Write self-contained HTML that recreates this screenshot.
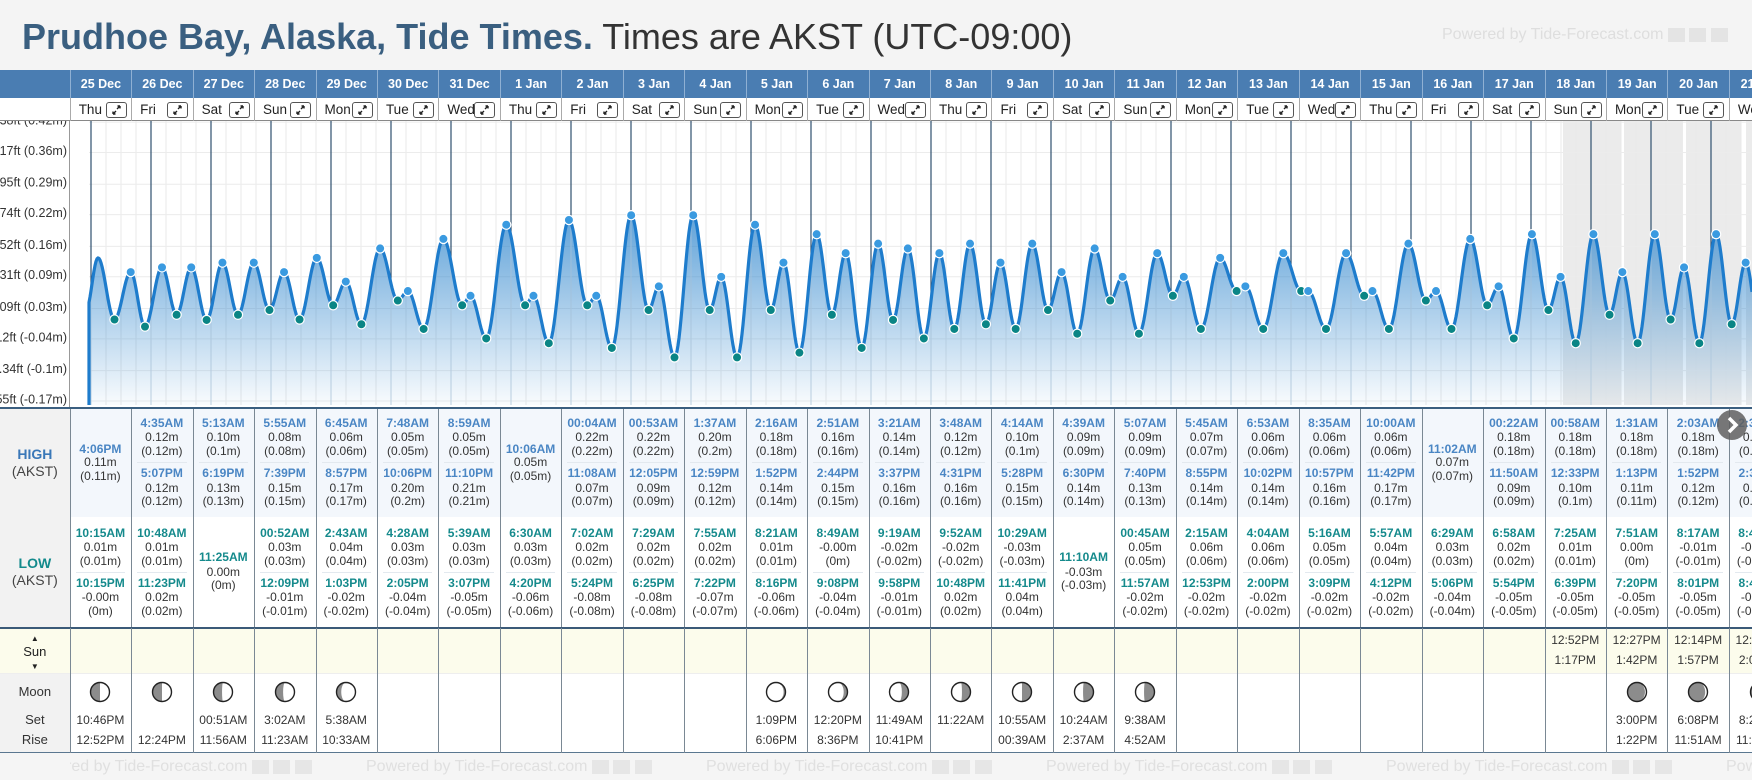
<!DOCTYPE html>
<html><head><meta charset="utf-8"><style>
body{margin:0;width:1752px;height:780px;overflow:hidden;background:#f4f4f4;font-family:"Liberation Sans",sans-serif;position:relative}
.a{position:absolute;box-sizing:border-box}
#tbl{position:absolute;left:0;top:0;width:1752px;height:780px;overflow:hidden;pointer-events:none}
#tbl *{pointer-events:auto}
</style></head><body>
<div class="a" style="left:22px;top:14px;line-height:46px;font-size:36px;white-space:nowrap;color:#333"><b style="color:#3a5f80">Prudhoe Bay, Alaska, Tide Times.</b> Times are AKST (UTC-09:00)</div>
<div class="a" style="left:1442px;top:26px;font-size:16px;color:#dedede;white-space:nowrap">Powered by Tide-Forecast.com <span style="display:inline-block;width:17px;height:14px;background:#e4e4e4;vertical-align:middle"></span> <span style="display:inline-block;width:17px;height:14px;background:#e4e4e4;vertical-align:middle"></span> <span style="display:inline-block;width:17px;height:14px;background:#e4e4e4;vertical-align:middle"></span></div>
<svg id="chart" class="a" style="left:0;top:0" width="1752" height="410" viewBox="0 0 1752 410"></svg>
<div id="tbl"></div>
<script>
const tideTimes=["2025-12-23T22:00","2025-12-24T02:48","2025-12-24T09:24","2025-12-24T15:53","2025-12-24T21:36","2025-12-25T04:24",
"2025-12-25T10:15","2025-12-25T16:06","2025-12-25T22:15","2025-12-26T04:35","2025-12-26T10:48","2025-12-26T17:07","2025-12-26T23:23",
"2025-12-27T05:13","2025-12-27T11:25","2025-12-27T18:19","2025-12-28T00:52","2025-12-28T05:55","2025-12-28T12:09","2025-12-28T19:39",
"2025-12-29T02:43","2025-12-29T06:45","2025-12-29T13:03","2025-12-29T20:57","2025-12-30T04:28","2025-12-30T07:48","2025-12-30T14:05","2025-12-30T22:06",
"2025-12-31T05:39","2025-12-31T08:59","2025-12-31T15:07","2025-12-31T23:10","2026-01-01T06:30","2026-01-01T10:06","2026-01-01T16:20",
"2026-01-02T00:04","2026-01-02T07:02","2026-01-02T11:08","2026-01-02T17:24","2026-01-03T00:53","2026-01-03T07:29","2026-01-03T12:05","2026-01-03T18:25",
"2026-01-04T01:37","2026-01-04T07:55","2026-01-04T12:59","2026-01-04T19:22","2026-01-05T02:16","2026-01-05T08:21","2026-01-05T13:52","2026-01-05T20:16",
"2026-01-06T02:51","2026-01-06T08:49","2026-01-06T14:44","2026-01-06T21:08","2026-01-07T03:21","2026-01-07T09:19","2026-01-07T15:37","2026-01-07T21:58",
"2026-01-08T03:48","2026-01-08T09:52","2026-01-08T16:31","2026-01-08T22:48","2026-01-09T04:14","2026-01-09T10:29","2026-01-09T17:28","2026-01-09T23:41",
"2026-01-10T04:39","2026-01-10T11:10","2026-01-10T18:30","2026-01-11T00:45","2026-01-11T05:07","2026-01-11T11:57","2026-01-11T19:40",
"2026-01-12T02:15","2026-01-12T05:45","2026-01-12T12:53","2026-01-12T20:55","2026-01-13T04:04","2026-01-13T06:53","2026-01-13T14:00","2026-01-13T22:02",
"2026-01-14T05:16","2026-01-14T08:35","2026-01-14T15:09","2026-01-14T22:57","2026-01-15T05:57","2026-01-15T10:00","2026-01-15T16:12","2026-01-15T23:42",
"2026-01-16T06:29","2026-01-16T11:02","2026-01-16T17:06","2026-01-17T00:22","2026-01-17T06:58","2026-01-17T11:50","2026-01-17T17:54",
"2026-01-18T00:58","2026-01-18T07:25","2026-01-18T12:33","2026-01-18T18:39","2026-01-19T01:31","2026-01-19T07:51","2026-01-19T13:13","2026-01-19T19:20",
"2026-01-20T02:03","2026-01-20T08:17","2026-01-20T13:52","2026-01-20T20:01","2026-01-21T02:35","2026-01-21T08:43","2026-01-21T14:31","2026-01-21T20:42","2026-01-22T03:06"];
const tideHeights=[0.02,0.13,0.00,0.10,-0.015,0.11,
0.01,0.11,-0.001,0.12,0.01,0.12,0.02,
0.10,0.00,0.13,0.03,0.08,-0.01,0.15,
0.04,0.06,-0.02,0.17,0.03,0.05,-0.04,0.20,
0.03,0.05,-0.05,0.21,0.03,0.05,-0.06,
0.22,0.02,0.07,-0.08,0.22,0.02,0.09,-0.08,
0.20,0.02,0.12,-0.07,0.18,0.01,0.14,-0.06,
0.16,-0.001,0.15,-0.04,0.14,-0.02,0.16,-0.01,
0.12,-0.02,0.16,0.02,0.10,-0.03,0.15,0.04,
0.09,-0.03,0.14,0.05,0.09,-0.02,0.13,
0.06,0.07,-0.02,0.14,0.06,0.06,-0.02,0.14,
0.05,0.06,-0.02,0.16,0.04,0.06,-0.02,0.17,
0.03,0.07,-0.04,0.18,0.02,0.09,-0.05,
0.18,0.01,0.10,-0.05,0.18,0.00,0.11,-0.05,
0.18,-0.01,0.12,-0.05,0.18,-0.01,0.12,-0.04,0.17];
const firstKind="L";
const tableStart="2025-12-25T08:00";
const tickFt=[1.38,1.17,0.95,0.74,0.52,0.31,0.09,-0.12,-0.34,-0.55];
const tickM=[0.42,0.36,0.29,0.22,0.16,0.09,0.03,-0.04,-0.1,-0.17];
const shadeStarts=["2026-01-17T12:46","2026-01-18T13:12","2026-01-19T14:00","2026-01-20T14:00"];
const shadeEnds=["2026-01-18T12:00","2026-01-19T12:48","2026-01-20T12:00","2026-01-22T12:00"];
const sunDates=["2026-01-18","2026-01-19","2026-01-20","2026-01-21"];
const sunTop=["12:52PM","12:27PM","12:14PM","12:02PM"];
const sunBottom=["1:17PM","1:42PM","1:57PM","2:09PM"];
const moonDates=["2025-12-25","2025-12-26","2025-12-27","2025-12-28","2025-12-29","2026-01-05","2026-01-06","2026-01-07","2026-01-08","2026-01-09","2026-01-10","2026-01-11","2026-01-19","2026-01-20","2026-01-21"];
const moonSet=["10:46PM","","00:51AM","3:02AM","5:38AM","1:09PM","12:20PM","11:49AM","11:22AM","10:55AM","10:24AM","9:38AM","3:00PM","6:08PM","8:25PM"];
const moonRise=["12:52PM","12:24PM","11:56AM","11:23AM","10:33AM","6:06PM","8:36PM","10:41PM","","00:39AM","2:37AM","4:52AM","1:22PM","11:51AM","11:20AM"];
const moonShade=[0.5,0.5,0.45,0.4,0.25,0.1,0.2,0.35,0.45,0.5,0.55,0.55,0.92,0.88,0.85];
const moonShadeSide=["L","L","L","L","L","R","R","R","R","R","R","R","L","L","L"];

const NS="http://www.w3.org/2000/svg";
const E0=Date.UTC(2025,11,25);
function toDays(s){const d=s.split("T"),p=d[0].split("-").map(Number),q=(d[1]||"00:00").split(":").map(Number);return (Date.UTC(p[0],p[1]-1,p[2],q[0],q[1])-E0)/864e5;}
function xT(d){return 151+60*d;}
function yM(m){return 319.5-474*m;}
function isHigh(i){return (i%2===0)?(firstKind==="H"):(firstKind!=="H");}
const tDays=tideTimes.map(toDays);
function valueAt(d){
  for(let i=0;i<tDays.length-1;i++){if(d>=tDays[i]&&d<=tDays[i+1]){const f=(d-tDays[i])/(tDays[i+1]-tDays[i]);return tideHeights[i]+(tideHeights[i+1]-tideHeights[i])*(1-Math.cos(Math.PI*f))/2;}}
  return tideHeights[tideHeights.length-1];
}
function sv(tag,at,parent){const e=document.createElementNS(NS,tag);for(const k in at)e.setAttribute(k,at[k]);(parent||svg).appendChild(e);return e;}
const svg=document.getElementById("chart");
const TOP=121,BOT=405,LEFT=89;
const defs=sv("defs",{});
const lg=sv("linearGradient",{id:"fillg",x1:"0",y1:"190",x2:"0",y2:"405",gradientUnits:"userSpaceOnUse"},defs);
sv("stop",{offset:"0","stop-color":"#2c84cc","stop-opacity":"0.85"},lg);
sv("stop",{offset:"1","stop-color":"#2c84cc","stop-opacity":"0.03"},lg);
const cp=sv("clipPath",{id:"plotclip"},defs);sv("rect",{x:LEFT-2,y:TOP,width:1752-LEFT+2,height:BOT-TOP+2},cp);
let r=sv("rect",{x:0,y:TOP,width:1752,height:BOT-TOP+2,fill:"#fff"});


const g=sv("g",{"clip-path":"url(#plotclip)"});
shadeStarts.forEach((s,i)=>{const x1=xT(toDays(s)),x2=Math.min(1752,xT(toDays(shadeEnds[i])));
  const b=sv("rect",{x:x1,y:TOP,width:x2-x1,height:BOT-TOP,fill:"#ebebeb"},g);
  
  
});
for(let x=xT(-1);x<1752;x+=15){const l=sv("line",{x1:x,y1:TOP,x2:x,y2:BOT,stroke:"#e9e9e9","stroke-width":1},g);}
tickFt.forEach(f=>{const y=yM(f*0.3048)+2;const l=sv("line",{x1:LEFT,y1:y,x2:1752,y2:y,stroke:"#ececec","stroke-width":1},g);});
let pts=[];
for(let x=LEFT;x<=1752;x+=1){pts.push([x,yM(valueAt((x-151)/60))]);}
let line="M"+LEFT+","+BOT+" "+pts.map(p=>"L"+p[0]+","+p[1].toFixed(1)).join(" ");
const area=sv("path",{d:line+" L1752,"+BOT+" Z",fill:"url(#fillg)"},g);


for(let k=-1;k<28;k++){const x=xT(k);if(x<=LEFT+1||x>1752)continue;const yv=yM(valueAt(k));
  const a=sv("line",{x1:x,y1:TOP,x2:x,y2:yv,stroke:"#2e4f6e","stroke-width":1.2},g);
  
  
  const b=sv("line",{x1:x,y1:yv,x2:x,y2:BOT,stroke:"#a9c4dc","stroke-width":1,"stroke-opacity":"0.7"},g);
  
  
}
const st=sv("path",{d:line,fill:"none",stroke:"#1e7ccc","stroke-width":3.2,"stroke-linejoin":"round"},g);


tDays.forEach((d,i)=>{const x=xT(d);if(x<100||x>1756)return;const hi=isHigh(i);
  const c=sv("circle",{cx:x,cy:yM(tideHeights[i]),r:4.6,fill:hi?"#3a9ae0":"#0a8585",stroke:"#fff","stroke-width":1.2},g);
  
  
});
sv("rect",{x:0,y:TOP,width:69.5,height:BOT-TOP+2,fill:"#fff"});
const ax=sv("line",{x1:69.5,y1:TOP,x2:69.5,y2:BOT+2,stroke:"#999","stroke-width":1});


tickFt.forEach((f,i)=>{const t=sv("text",{x:67,y:yM(f*0.3048)+4.5,"text-anchor":"end","font-size":"12.5",fill:"#333","font-family":"Liberation Sans, sans-serif"});
  t.textContent=f+"ft ("+tickM[i]+"m)";
  
  
});

const tbl=document.getElementById("tbl");
const X0=69.7,CW=61.45,NC=28;
function div(css,txt,parent){const e=document.createElement("div");e.className="a";e.style.cssText=css;if(txt!=null)e.textContent=txt;(parent||tbl).appendChild(e);return e;}
const months=["Jan","Feb","Mar","Apr","May","Jun","Jul","Aug","Sep","Oct","Nov","Dec"];
const dows=["Sun","Mon","Tue","Wed","Thu","Fri","Sat"];
function fmtT(h,m){const mm=(m<10?"0":"")+m;if(h===0)return "00:"+mm+"AM";return ((h%12)||12)+":"+mm+(h<12?"AM":"PM");}
function fmtV(v){const s=v.toFixed(2);return [s+"m","("+String(parseFloat(s)===0?0:parseFloat(s))+"m)"];}
let e=div("left:0;top:70px;width:1752px;height:28px;background:#4a7db2");


e=div("left:0;top:98px;width:1752px;height:23px;background:#fff;border-bottom:1px solid #888");


e=div("left:0;top:407px;width:1752px;height:220px;background:#fff;border-top:2px solid #3b5f80");


div("left:69.7px;top:409px;width:1682.3px;height:108px;background:#f3f7fc");
e=div("left:0;top:627px;width:1752px;height:46px;background:#fcfcec;border-top:2px solid #3b5a78");


e=div("left:0;top:673px;width:1752px;height:80px;background:#fff;border-top:1px solid #eee;border-bottom:1px solid #5a7790");


e=div("left:0;top:753px;width:1752px;height:27px;background:#f5f5f5");


div("left:0;top:409px;width:69.7px;height:218px;background:#f2f2f2");
div("left:0;top:674px;width:69.7px;height:78px;background:#f2f2f2");
e=div("left:0;top:446px;width:69.7px;text-align:center;font-size:14px;line-height:17px;color:#444","");
e.innerHTML='<b style="color:#3a78b8">HIGH</b><br>(AKST)';


e=div("left:0;top:555px;width:69.7px;text-align:center;font-size:14px;line-height:17px;color:#444","");
e.innerHTML='<b style="color:#138a8c">LOW</b><br>(AKST)';


e=div("left:0;top:630px;width:69.7px;text-align:center;font-size:13px;line-height:13px;color:#222","");
e.innerHTML='<span style="font-size:8px">▲</span><br>Sun<br><span style="font-size:8px">▼</span>';


e=div("left:0;top:684px;width:69.7px;text-align:center;font-size:13px;color:#333","");
e.innerHTML='<div style="height:17px">Moon</div><div style="height:20px;margin-top:11px">Set</div><div>Rise</div>';


const byDate={};const tsd=toDays(tableStart);
tideTimes.forEach((s,i)=>{if(tDays[i]<tsd)return;const k=s.slice(0,10);(byDate[k]=byDate[k]||{H:[],L:[]})[isHigh(i)?"H":"L"].push([s,tideHeights[i]]);});
function entry(list,centers,color,xs){
  const sets=list.length===1?[centers[2]]:[centers[0],centers[1]];
  list.forEach((it,j)=>{const c=sets[j];if(!c)return;const q=it[0].slice(11).split(":").map(Number);const v=fmtV(it[1]);
    let t=div("left:"+xs+"px;top:"+(c[0]-7)+"px;width:"+CW+"px;text-align:center;line-height:14px;font-size:12px;font-weight:bold;color:"+color+";white-space:nowrap",fmtT(q[0],q[1]));
    
    
    t=div("left:"+xs+"px;top:"+(c[1]-7)+"px;width:"+CW+"px;text-align:center;line-height:14px;font-size:12px;color:#333;white-space:nowrap",v[0]);
    
    
    t=div("left:"+xs+"px;top:"+(c[2]-7)+"px;width:"+CW+"px;text-align:center;line-height:14px;font-size:12px;color:#333;white-space:nowrap",v[1]);
    
    
  });
  if(list.length===2){div("left:"+(xs+6)+"px;top:"+(centers[0][2]+11)+"px;width:"+(CW-12)+"px;height:1px;background:#e3e9ef");}
}
function moonIcon(cx,cy,f,side){
  const R=9.5;let s='<svg width="24" height="24" viewBox="0 0 24 24" style="position:absolute;left:'+(cx-12)+'px;top:'+(cy-12)+'px">';
  s+='<circle cx="12" cy="12" r="'+R+'" fill="#fff"/>';
  const rx=Math.abs(f-0.5)*2*R;const sw=f>0.5?0:1;
  s+='<path d="M12,'+(12-R)+' A'+R+','+R+' 0 0 0 12,'+(12+R)+' A'+rx.toFixed(2)+','+R+' 0 0 '+sw+' 12,'+(12-R)+' Z" fill="#8c8c8c"'+(side==="R"?' transform="translate(24,0) scale(-1,1)"':'')+'/>';
  s+='<circle cx="12" cy="12" r="'+R+'" fill="none" stroke="#222" stroke-width="1.4"/></svg>';return s;
}
for(let c=0;c<NC;c++){
  const xs=X0+c*CW;const dt=new Date(E0+c*864e5);
  const key=dt.toISOString().slice(0,10);
  let h=div("left:"+xs+"px;top:70px;width:"+CW+"px;height:28px;line-height:28px;text-align:center;color:#fff;font-weight:bold;font-size:12.5px;border-left:1px solid #8fb0d3;white-space:nowrap",dt.getUTCDate()+" "+months[dt.getUTCMonth()]);
  
  
  h=div("left:"+xs+"px;top:98px;width:"+CW+"px;height:23px;line-height:23px;padding-left:8px;color:#222;font-size:13.5px;border-left:1px solid #aaa;white-space:nowrap;overflow:hidden",dows[dt.getUTCDay()]);
  
  
  const ib=div("left:"+(xs+36)+"px;top:102px;width:21px;height:16px;border:1px solid #555;border-radius:3px;background:#fff");
  ib.innerHTML='<svg width="19" height="14" viewBox="0 0 19 14" style="position:absolute;left:0;top:0"><path d="M6,11 L9,8 M6,11 L6,8.5 M6,11 L8.5,11 M13,3 L10,6 M13,3 L13,5.5 M13,3 L10.5,3" stroke="#222" stroke-width="1.4" fill="none"/></svg>';
  
  
  const bl=div("left:"+xs+"px;top:409px;width:1px;height:344px;background:#7a8894");
  
  
  const dd=byDate[key]||{H:[],L:[]};
  entry(dd.H,[[423,437,451],[473,488,501],[449,462,476]],"#4a86c4",xs);
  entry(dd.L,[[533,547,561],[583,597,611],[557,572,585]],"#158a8c",xs);
  const si=sunDates.indexOf(key);
  if(si>=0){let t=div("left:"+xs+"px;top:633px;width:"+CW+"px;text-align:center;line-height:14px;font-size:12px;color:#333;white-space:nowrap",sunTop[si]);
    
    t=div("left:"+xs+"px;top:653px;width:"+CW+"px;text-align:center;line-height:14px;font-size:12px;color:#333;white-space:nowrap",sunBottom[si]);
    }
  const mi=moonDates.indexOf(key);
  if(mi>=0){const m=div("left:"+xs+"px;top:674px;width:"+CW+"px;height:78px");m.innerHTML=moonIcon(CW/2,18,moonShade[mi],moonShadeSide[mi]);
    
    let t=div("left:"+xs+"px;top:713px;width:"+CW+"px;text-align:center;line-height:14px;font-size:12px;color:#333;white-space:nowrap",moonSet[mi]);
    
    t=div("left:"+xs+"px;top:733px;width:"+CW+"px;text-align:center;line-height:14px;font-size:12px;color:#333;white-space:nowrap",moonRise[mi]);
    }
}
div("left:69.7px;top:627px;width:1682.3px;height:1px;background:#3b5a78");
for(let k=0;k<6;k++){const f=div("left:"+(26+340*k)+"px;top:757px;font-size:16px;line-height:20px;color:#e0e0e0;white-space:nowrap","");
  f.innerHTML='Powered by Tide-Forecast.com <span style="display:inline-block;width:17px;height:14px;background:#e6e6e6;vertical-align:middle"></span> <span style="display:inline-block;width:17px;height:14px;background:#e6e6e6;vertical-align:middle"></span> <span style="display:inline-block;width:17px;height:14px;background:#e6e6e6;vertical-align:middle"></span>';
  }
div("left:0;top:753px;width:69.7px;height:27px;background:#f5f5f5");
const nb=div("left:1717px;top:410px;width:30px;height:30px;border-radius:50%;background:rgba(95,95,95,0.85)");
nb.innerHTML='<svg width="30" height="30" style="position:absolute;left:0;top:0"><path d="M12,8 L19,15 L12,22" stroke="#fff" stroke-width="3.5" fill="none"/></svg>';


</script>
</body></html>
